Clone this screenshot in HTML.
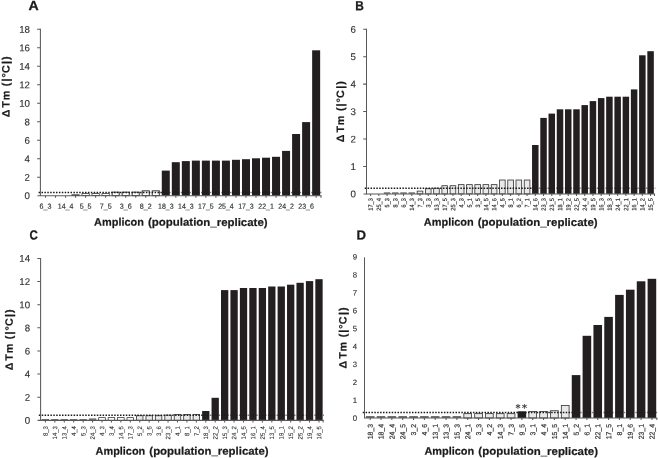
<!DOCTYPE html>
<html lang="en"><head><meta charset="utf-8"><title>Figure</title>
<style>
html,body{margin:0;padding:0;background:#fff;}
body{width:658px;height:458px;overflow:hidden;}
svg{display:block;font-family:"Liberation Sans",sans-serif;}
</style></head><body>
<svg width="658" height="458" viewBox="0 0 658 458">
<rect width="658" height="458" fill="#fff"/>
<g>
<rect x="71.92" y="194.75" width="7.3" height="0.9" fill="#fff" stroke="#222" stroke-width="0.7"/>
<rect x="81.95" y="193.65" width="7.3" height="2" fill="#fff" stroke="#222" stroke-width="0.7"/>
<rect x="91.97" y="193.65" width="7.3" height="2" fill="#fff" stroke="#222" stroke-width="0.7"/>
<rect x="101.99" y="193.65" width="7.3" height="2" fill="#fff" stroke="#222" stroke-width="0.7"/>
<rect x="112.12" y="192.15" width="7.1" height="3.5" fill="#fff" stroke="#222" stroke-width="0.9"/>
<rect x="122.14" y="192.15" width="7.1" height="3.5" fill="#fff" stroke="#222" stroke-width="0.9"/>
<rect x="132.17" y="192.15" width="7.1" height="3.5" fill="#fff" stroke="#222" stroke-width="0.9"/>
<rect x="142.19" y="190.85" width="7.1" height="4.8" fill="#fff" stroke="#222" stroke-width="0.9"/>
<rect x="152.21" y="190.85" width="7.1" height="4.8" fill="#fff" stroke="#222" stroke-width="0.9"/>
<rect x="161.79" y="170.6" width="8" height="25.05" fill="#231f20"/>
<rect x="171.81" y="162.2" width="8" height="33.45" fill="#231f20"/>
<rect x="181.84" y="161.1" width="8" height="34.55" fill="#231f20"/>
<rect x="191.86" y="160.6" width="8" height="35.05" fill="#231f20"/>
<rect x="201.88" y="160.6" width="8" height="35.05" fill="#231f20"/>
<rect x="211.91" y="160.6" width="8" height="35.05" fill="#231f20"/>
<rect x="221.93" y="160.6" width="8" height="35.05" fill="#231f20"/>
<rect x="231.96" y="159.8" width="8" height="35.85" fill="#231f20"/>
<rect x="241.98" y="159.2" width="8" height="36.45" fill="#231f20"/>
<rect x="252" y="158.3" width="8" height="37.35" fill="#231f20"/>
<rect x="262.03" y="157.7" width="8" height="37.95" fill="#231f20"/>
<rect x="272.05" y="156.8" width="8" height="38.85" fill="#231f20"/>
<rect x="282.08" y="150.9" width="8" height="44.75" fill="#231f20"/>
<rect x="292.1" y="134" width="8" height="61.65" fill="#231f20"/>
<rect x="302.12" y="122.1" width="8" height="73.55" fill="#231f20"/>
<rect x="312.15" y="50.3" width="8" height="145.35" fill="#231f20"/>
<line x1="38.6" y1="192.5" x2="163.2" y2="192.5" stroke="#1a1a1a" stroke-width="1.5" stroke-dasharray="1.5 1.4"/>
<line x1="163.3" y1="192.5" x2="321.9" y2="192.5" stroke="#1a1a1a" stroke-opacity="0.55" stroke-width="1.5" stroke-dasharray="1.5 1.4"/>
<line x1="40.4" y1="28.85" x2="40.4" y2="196.05" stroke="#585858" stroke-width="1.05"/>
<line x1="37.4" y1="195.65" x2="321.5" y2="195.65" stroke="#585858" stroke-width="1.05"/>
<path d="M37.1 177.16h3.3M37.1 158.67h3.3M37.1 140.18h3.3M37.1 121.69h3.3M37.1 103.21h3.3M37.1 84.72h3.3M37.1 66.23h3.3M37.1 47.74h3.3M37.1 29.25h3.3" stroke="#585858" stroke-width="1.05" fill="none"/>
<g font-size="9.7" fill="#2e2e2e" stroke="#2e2e2e" stroke-width="0.12" text-anchor="end">
<text transform="translate(30 199.12) rotate(0.04)">0</text>
<text transform="translate(30 180.63) rotate(0.04)">2</text>
<text transform="translate(30 162.14) rotate(0.04)">4</text>
<text transform="translate(30 143.66) rotate(0.04)">6</text>
<text transform="translate(30 125.17) rotate(0.04)">8</text>
<text transform="translate(30 106.68) rotate(0.04)">10</text>
<text transform="translate(30 88.19) rotate(0.04)">12</text>
<text transform="translate(30 69.7) rotate(0.04)">14</text>
<text transform="translate(30 51.21) rotate(0.04)">16</text>
<text transform="translate(30 32.72) rotate(0.04)">18</text>
</g>
<path d="M45.5 195.65v2.1M55.52 195.65v2.1M65.55 195.65v2.1M75.57 195.65v2.1M85.6 195.65v2.1M95.62 195.65v2.1M105.64 195.65v2.1M115.67 195.65v2.1M125.69 195.65v2.1M135.72 195.65v2.1M145.74 195.65v2.1M155.76 195.65v2.1M165.79 195.65v2.1M175.81 195.65v2.1M185.84 195.65v2.1M195.86 195.65v2.1M205.88 195.65v2.1M215.91 195.65v2.1M225.93 195.65v2.1M235.96 195.65v2.1M245.98 195.65v2.1M256 195.65v2.1M266.03 195.65v2.1M276.05 195.65v2.1M286.08 195.65v2.1M296.1 195.65v2.1M306.12 195.65v2.1M316.15 195.65v2.1M321 195.65v2.1" stroke="#585858" stroke-width="1.05" fill="none"/>
<g font-size="7.4" fill="#2e2e2e" stroke="#2e2e2e" stroke-width="0.15" text-anchor="middle">
<text transform="translate(45.5 208.7) rotate(0.04)" textLength="11.9" lengthAdjust="spacingAndGlyphs">6_3</text>
<text transform="translate(65.55 208.7) rotate(0.04)" textLength="15.6" lengthAdjust="spacingAndGlyphs">14_4</text>
<text transform="translate(85.6 208.7) rotate(0.04)" textLength="11.9" lengthAdjust="spacingAndGlyphs">5_5</text>
<text transform="translate(105.64 208.7) rotate(0.04)" textLength="11.9" lengthAdjust="spacingAndGlyphs">7_5</text>
<text transform="translate(125.69 208.7) rotate(0.04)" textLength="11.9" lengthAdjust="spacingAndGlyphs">3_6</text>
<text transform="translate(145.74 208.7) rotate(0.04)" textLength="11.9" lengthAdjust="spacingAndGlyphs">8_2</text>
<text transform="translate(165.79 208.7) rotate(0.04)" textLength="15.6" lengthAdjust="spacingAndGlyphs">18_3</text>
<text transform="translate(185.84 208.7) rotate(0.04)" textLength="15.6" lengthAdjust="spacingAndGlyphs">14_3</text>
<text transform="translate(205.88 208.7) rotate(0.04)" textLength="15.6" lengthAdjust="spacingAndGlyphs">17_5</text>
<text transform="translate(225.93 208.7) rotate(0.04)" textLength="15.6" lengthAdjust="spacingAndGlyphs">25_4</text>
<text transform="translate(245.98 208.7) rotate(0.04)" textLength="15.6" lengthAdjust="spacingAndGlyphs">17_3</text>
<text transform="translate(266.03 208.7) rotate(0.04)" textLength="15.6" lengthAdjust="spacingAndGlyphs">22_1</text>
<text transform="translate(286.08 208.7) rotate(0.04)" textLength="15.6" lengthAdjust="spacingAndGlyphs">24_2</text>
<text transform="translate(306.12 208.7) rotate(0.04)" textLength="15.6" lengthAdjust="spacingAndGlyphs">23_6</text>
</g>
<text transform="translate(28.4 10.1) rotate(0.04)" font-size="13.2" font-weight="bold" fill="#1a1a1a" stroke="#1a1a1a" stroke-width="0.25" textLength="10.2" lengthAdjust="spacingAndGlyphs">A</text>
<text transform="translate(9.5 116.8) rotate(-89.96)" font-size="10.7" font-weight="bold" fill="#1a1a1a" stroke="#1a1a1a" stroke-width="0.2" x="-0.5 7 9.18 16.44 26 30.6 35.2 39.26 43.74 52.8 56.8">Δ Tm (|°C|)</text>
<text transform="translate(94.1 225.8) rotate(0.04)" font-size="11" font-weight="bold" fill="#1a1a1a" stroke="#1a1a1a" stroke-width="0.2" lengthAdjust="spacingAndGlyphs"><tspan x="0" textLength="49.8" lengthAdjust="spacingAndGlyphs">Amplicon</tspan> <tspan x="53.9" textLength="119.6" lengthAdjust="spacingAndGlyphs">(population_replicate)</tspan></text>
</g>
<g>
<rect x="383.82" y="192.3" width="6.5" height="1.6" fill="#707070"/>
<rect x="392.06" y="192.3" width="6.5" height="1.6" fill="#707070"/>
<rect x="400.29" y="192.3" width="6.5" height="1.6" fill="#707070"/>
<rect x="408.53" y="192.3" width="6.5" height="1.6" fill="#707070"/>
<rect x="417.18" y="191.12" width="5.65" height="2.78" fill="#e9e9e9" stroke="#3c3c3c" stroke-width="0.85"/>
<rect x="425.42" y="188.72" width="5.65" height="5.18" fill="#e9e9e9" stroke="#3c3c3c" stroke-width="0.85"/>
<rect x="433.65" y="188.22" width="5.65" height="5.68" fill="#e9e9e9" stroke="#3c3c3c" stroke-width="0.85"/>
<rect x="441.89" y="185.72" width="5.65" height="8.18" fill="#e9e9e9" stroke="#3c3c3c" stroke-width="0.85"/>
<rect x="450.12" y="185.72" width="5.65" height="8.18" fill="#e9e9e9" stroke="#3c3c3c" stroke-width="0.85"/>
<rect x="458.36" y="184.62" width="5.65" height="9.28" fill="#e9e9e9" stroke="#3c3c3c" stroke-width="0.85"/>
<rect x="466.59" y="184.62" width="5.65" height="9.28" fill="#e9e9e9" stroke="#3c3c3c" stroke-width="0.85"/>
<rect x="474.83" y="184.62" width="5.65" height="9.28" fill="#e9e9e9" stroke="#3c3c3c" stroke-width="0.85"/>
<rect x="483.06" y="184.62" width="5.65" height="9.28" fill="#e9e9e9" stroke="#3c3c3c" stroke-width="0.85"/>
<rect x="491.3" y="184.62" width="5.65" height="9.28" fill="#e9e9e9" stroke="#3c3c3c" stroke-width="0.85"/>
<rect x="499.53" y="180.02" width="5.65" height="13.88" fill="#e9e9e9" stroke="#3c3c3c" stroke-width="0.85"/>
<rect x="507.77" y="180.02" width="5.65" height="13.88" fill="#e9e9e9" stroke="#3c3c3c" stroke-width="0.85"/>
<rect x="516" y="180.02" width="5.65" height="13.88" fill="#e9e9e9" stroke="#3c3c3c" stroke-width="0.85"/>
<rect x="524.24" y="180.02" width="5.65" height="13.88" fill="#e9e9e9" stroke="#3c3c3c" stroke-width="0.85"/>
<rect x="532.05" y="145" width="6.5" height="48.9" fill="#231f20"/>
<rect x="540.29" y="117.9" width="6.5" height="76" fill="#231f20"/>
<rect x="548.52" y="113.6" width="6.5" height="80.3" fill="#231f20"/>
<rect x="556.75" y="109.3" width="6.5" height="84.6" fill="#231f20"/>
<rect x="564.99" y="109.3" width="6.5" height="84.6" fill="#231f20"/>
<rect x="573.23" y="109.3" width="6.5" height="84.6" fill="#231f20"/>
<rect x="581.46" y="105.1" width="6.5" height="88.8" fill="#231f20"/>
<rect x="589.69" y="101.1" width="6.5" height="92.8" fill="#231f20"/>
<rect x="597.93" y="98.1" width="6.5" height="95.8" fill="#231f20"/>
<rect x="606.16" y="96.7" width="6.5" height="97.2" fill="#231f20"/>
<rect x="614.4" y="96.7" width="6.5" height="97.2" fill="#231f20"/>
<rect x="622.63" y="96.7" width="6.5" height="97.2" fill="#231f20"/>
<rect x="630.87" y="89.4" width="6.5" height="104.5" fill="#231f20"/>
<rect x="639.11" y="55.3" width="6.5" height="138.6" fill="#231f20"/>
<rect x="647.34" y="51.2" width="6.5" height="142.7" fill="#231f20"/>
<line x1="364.7" y1="188.2" x2="532.8" y2="188.2" stroke="#1a1a1a" stroke-width="1.5" stroke-dasharray="1.5 1.4"/>
<line x1="532.9" y1="188.2" x2="655.4" y2="188.2" stroke="#1a1a1a" stroke-opacity="0.55" stroke-width="1.5" stroke-dasharray="1.5 1.4"/>
<line x1="366.5" y1="28.8" x2="366.5" y2="194.3" stroke="#585858" stroke-width="1.05"/>
<line x1="363.5" y1="193.9" x2="655" y2="193.9" stroke="#585858" stroke-width="1.05"/>
<path d="M363.2 166.45h3.3M363.2 139h3.3M363.2 111.55h3.3M363.2 84.1h3.3M363.2 56.65h3.3M363.2 29.2h3.3" stroke="#585858" stroke-width="1.05" fill="none"/>
<g font-size="9.7" fill="#2e2e2e" stroke="#2e2e2e" stroke-width="0.12" text-anchor="end">
<text transform="translate(355.8 197.37) rotate(0.04)">0</text>
<text transform="translate(355.8 169.92) rotate(0.04)">1</text>
<text transform="translate(355.8 142.47) rotate(0.04)">2</text>
<text transform="translate(355.8 115.02) rotate(0.04)">3</text>
<text transform="translate(355.8 87.57) rotate(0.04)">4</text>
<text transform="translate(355.8 60.12) rotate(0.04)">5</text>
<text transform="translate(355.8 32.67) rotate(0.04)">6</text>
</g>
<path d="M370.6 193.9v2.1M378.84 193.9v2.1M387.07 193.9v2.1M395.31 193.9v2.1M403.54 193.9v2.1M411.78 193.9v2.1M420.01 193.9v2.1M428.25 193.9v2.1M436.48 193.9v2.1M444.72 193.9v2.1M452.95 193.9v2.1M461.19 193.9v2.1M469.42 193.9v2.1M477.66 193.9v2.1M485.89 193.9v2.1M494.12 193.9v2.1M502.36 193.9v2.1M510.6 193.9v2.1M518.83 193.9v2.1M527.07 193.9v2.1M535.3 193.9v2.1M543.54 193.9v2.1M551.77 193.9v2.1M560 193.9v2.1M568.24 193.9v2.1M576.48 193.9v2.1M584.71 193.9v2.1M592.94 193.9v2.1M601.18 193.9v2.1M609.41 193.9v2.1M617.65 193.9v2.1M625.88 193.9v2.1M634.12 193.9v2.1M642.36 193.9v2.1M650.59 193.9v2.1M654.5 193.9v2.1" stroke="#585858" stroke-width="1.05" fill="none"/>
<g font-size="6.3" fill="#2e2e2e" stroke="#2e2e2e" stroke-width="0.15" text-anchor="end">
<text transform="translate(372.86 198.2) rotate(-89.96)" textLength="12.5" lengthAdjust="spacingAndGlyphs">17_3</text>
<text transform="translate(381.09 198.2) rotate(-89.96)" textLength="12.5" lengthAdjust="spacingAndGlyphs">25_4</text>
<text transform="translate(389.33 198.2) rotate(-89.96)" textLength="9.2" lengthAdjust="spacingAndGlyphs">5_3</text>
<text transform="translate(397.56 198.2) rotate(-89.96)" textLength="9.2" lengthAdjust="spacingAndGlyphs">8_3</text>
<text transform="translate(405.8 198.2) rotate(-89.96)" textLength="9.2" lengthAdjust="spacingAndGlyphs">6_3</text>
<text transform="translate(414.03 198.2) rotate(-89.96)" textLength="12.5" lengthAdjust="spacingAndGlyphs">14_3</text>
<text transform="translate(422.27 198.2) rotate(-89.96)" textLength="9.2" lengthAdjust="spacingAndGlyphs">7_3</text>
<text transform="translate(430.5 198.2) rotate(-89.96)" textLength="9.2" lengthAdjust="spacingAndGlyphs">3_3</text>
<text transform="translate(438.74 198.2) rotate(-89.96)" textLength="12.5" lengthAdjust="spacingAndGlyphs">13_3</text>
<text transform="translate(446.97 198.2) rotate(-89.96)" textLength="12.5" lengthAdjust="spacingAndGlyphs">17_5</text>
<text transform="translate(455.21 198.2) rotate(-89.96)" textLength="12.5" lengthAdjust="spacingAndGlyphs">25_3</text>
<text transform="translate(463.44 198.2) rotate(-89.96)" textLength="9.2" lengthAdjust="spacingAndGlyphs">4_3</text>
<text transform="translate(471.68 198.2) rotate(-89.96)" textLength="9.2" lengthAdjust="spacingAndGlyphs">5_1</text>
<text transform="translate(479.91 198.2) rotate(-89.96)" textLength="9.2" lengthAdjust="spacingAndGlyphs">3_5</text>
<text transform="translate(488.15 198.2) rotate(-89.96)" textLength="12.5" lengthAdjust="spacingAndGlyphs">14_5</text>
<text transform="translate(496.38 198.2) rotate(-89.96)" textLength="12.5" lengthAdjust="spacingAndGlyphs">14_6</text>
<text transform="translate(504.62 198.2) rotate(-89.96)" textLength="9.2" lengthAdjust="spacingAndGlyphs">4_5</text>
<text transform="translate(512.85 198.2) rotate(-89.96)" textLength="9.2" lengthAdjust="spacingAndGlyphs">8_1</text>
<text transform="translate(521.09 198.2) rotate(-89.96)" textLength="9.2" lengthAdjust="spacingAndGlyphs">6_2</text>
<text transform="translate(529.32 198.2) rotate(-89.96)" textLength="9.2" lengthAdjust="spacingAndGlyphs">7_1</text>
<text transform="translate(537.56 198.2) rotate(-89.96)" textLength="12.5" lengthAdjust="spacingAndGlyphs">14_6</text>
<text transform="translate(545.79 198.2) rotate(-89.96)" textLength="12.5" lengthAdjust="spacingAndGlyphs">23_3</text>
<text transform="translate(554.03 198.2) rotate(-89.96)" textLength="12.5" lengthAdjust="spacingAndGlyphs">23_5</text>
<text transform="translate(562.26 198.2) rotate(-89.96)" textLength="12.5" lengthAdjust="spacingAndGlyphs">18_1</text>
<text transform="translate(570.5 198.2) rotate(-89.96)" textLength="12.5" lengthAdjust="spacingAndGlyphs">19_2</text>
<text transform="translate(578.73 198.2) rotate(-89.96)" textLength="12.5" lengthAdjust="spacingAndGlyphs">22_5</text>
<text transform="translate(586.97 198.2) rotate(-89.96)" textLength="12.5" lengthAdjust="spacingAndGlyphs">24_4</text>
<text transform="translate(595.2 198.2) rotate(-89.96)" textLength="12.5" lengthAdjust="spacingAndGlyphs">19_5</text>
<text transform="translate(603.44 198.2) rotate(-89.96)" textLength="12.5" lengthAdjust="spacingAndGlyphs">16_3</text>
<text transform="translate(611.67 198.2) rotate(-89.96)" textLength="12.5" lengthAdjust="spacingAndGlyphs">18_3</text>
<text transform="translate(619.91 198.2) rotate(-89.96)" textLength="12.5" lengthAdjust="spacingAndGlyphs">24_1</text>
<text transform="translate(628.14 198.2) rotate(-89.96)" textLength="12.5" lengthAdjust="spacingAndGlyphs">22_1</text>
<text transform="translate(636.38 198.2) rotate(-89.96)" textLength="12.5" lengthAdjust="spacingAndGlyphs">16_1</text>
<text transform="translate(644.61 198.2) rotate(-89.96)" textLength="12.5" lengthAdjust="spacingAndGlyphs">14_2</text>
<text transform="translate(652.85 198.2) rotate(-89.96)" textLength="12.5" lengthAdjust="spacingAndGlyphs">15_5</text>
</g>
<text transform="translate(355.3 10.3) rotate(0.04)" font-size="13.2" font-weight="bold" fill="#1a1a1a" stroke="#1a1a1a" stroke-width="0.25" textLength="8.6" lengthAdjust="spacingAndGlyphs">B</text>
<text transform="translate(343.9 141.65) rotate(-89.96)" font-size="10.7" font-weight="bold" fill="#1a1a1a" stroke="#1a1a1a" stroke-width="0.2" x="-0.5 7 9.18 16.44 26 30.6 35.2 39.26 43.74 52.8 56.8">Δ Tm (|°C|)</text>
<text transform="translate(423.8 225.8) rotate(0.04)" font-size="11" font-weight="bold" fill="#1a1a1a" stroke="#1a1a1a" stroke-width="0.2" lengthAdjust="spacingAndGlyphs"><tspan x="0" textLength="49.89" lengthAdjust="spacingAndGlyphs">Amplicon</tspan> <tspan x="53.99" textLength="119.81" lengthAdjust="spacingAndGlyphs">(population_replicate)</tspan></text>
</g>
<g>
<rect x="41.75" y="419" width="7.3" height="1.35" fill="#707070"/>
<rect x="51.18" y="419" width="7.3" height="1.35" fill="#707070"/>
<rect x="60.62" y="419" width="7.3" height="1.35" fill="#707070"/>
<rect x="70.05" y="419" width="7.3" height="1.35" fill="#707070"/>
<rect x="79.49" y="419" width="7.3" height="1.35" fill="#707070"/>
<rect x="88.92" y="418.4" width="7.3" height="1.95" fill="#707070"/>
<rect x="98.7" y="417.65" width="6.6" height="2.7" fill="#fff" stroke="#222" stroke-width="0.7"/>
<rect x="108.14" y="417.65" width="6.6" height="2.7" fill="#fff" stroke="#222" stroke-width="0.7"/>
<rect x="117.57" y="417.65" width="6.6" height="2.7" fill="#fff" stroke="#222" stroke-width="0.7"/>
<rect x="127.01" y="417.65" width="6.6" height="2.7" fill="#fff" stroke="#222" stroke-width="0.7"/>
<rect x="136.51" y="415.72" width="6.45" height="4.63" fill="#e9e9e9" stroke="#3c3c3c" stroke-width="0.85"/>
<rect x="145.94" y="415.72" width="6.45" height="4.63" fill="#e9e9e9" stroke="#3c3c3c" stroke-width="0.85"/>
<rect x="155.38" y="415.72" width="6.45" height="4.63" fill="#e9e9e9" stroke="#3c3c3c" stroke-width="0.85"/>
<rect x="164.81" y="415.12" width="6.45" height="5.23" fill="#e9e9e9" stroke="#3c3c3c" stroke-width="0.85"/>
<rect x="174.25" y="414.42" width="6.45" height="5.93" fill="#e9e9e9" stroke="#3c3c3c" stroke-width="0.85"/>
<rect x="183.68" y="414.42" width="6.45" height="5.93" fill="#e9e9e9" stroke="#3c3c3c" stroke-width="0.85"/>
<rect x="193.11" y="414.42" width="6.45" height="5.93" fill="#e9e9e9" stroke="#3c3c3c" stroke-width="0.85"/>
<rect x="202.13" y="411" width="7.3" height="9.35" fill="#231f20"/>
<rect x="211.56" y="397.8" width="7.3" height="22.55" fill="#231f20"/>
<rect x="221" y="290.1" width="7.3" height="130.25" fill="#231f20"/>
<rect x="230.43" y="290.1" width="7.3" height="130.25" fill="#231f20"/>
<rect x="239.86" y="288" width="7.3" height="132.35" fill="#231f20"/>
<rect x="249.3" y="288" width="7.3" height="132.35" fill="#231f20"/>
<rect x="258.73" y="288" width="7.3" height="132.35" fill="#231f20"/>
<rect x="268.17" y="286.5" width="7.3" height="133.85" fill="#231f20"/>
<rect x="277.6" y="286.5" width="7.3" height="133.85" fill="#231f20"/>
<rect x="287.03" y="284.7" width="7.3" height="135.65" fill="#231f20"/>
<rect x="296.47" y="282.8" width="7.3" height="137.55" fill="#231f20"/>
<rect x="305.9" y="281.1" width="7.3" height="139.25" fill="#231f20"/>
<rect x="315.34" y="279.2" width="7.3" height="141.15" fill="#231f20"/>
<line x1="38.8" y1="415.3" x2="204" y2="415.3" stroke="#1a1a1a" stroke-width="1.5" stroke-dasharray="1.5 1.4"/>
<line x1="204.1" y1="415.3" x2="324" y2="415.3" stroke="#1a1a1a" stroke-opacity="0.55" stroke-width="1.5" stroke-dasharray="1.5 1.4"/>
<line x1="40.6" y1="258" x2="40.6" y2="420.75" stroke="#585858" stroke-width="1.05"/>
<line x1="37.6" y1="420.35" x2="323.6" y2="420.35" stroke="#585858" stroke-width="1.05"/>
<path d="M37.3 397.21h3.3M37.3 374.08h3.3M37.3 350.94h3.3M37.3 327.81h3.3M37.3 304.67h3.3M37.3 281.54h3.3M37.3 258.4h3.3" stroke="#585858" stroke-width="1.05" fill="none"/>
<g font-size="9.7" fill="#2e2e2e" stroke="#2e2e2e" stroke-width="0.12" text-anchor="end">
<text transform="translate(30.1 423.82) rotate(0.04)">0</text>
<text transform="translate(30.1 400.69) rotate(0.04)">2</text>
<text transform="translate(30.1 377.55) rotate(0.04)">4</text>
<text transform="translate(30.1 354.42) rotate(0.04)">6</text>
<text transform="translate(30.1 331.28) rotate(0.04)">8</text>
<text transform="translate(30.1 308.14) rotate(0.04)">10</text>
<text transform="translate(30.1 285.01) rotate(0.04)">12</text>
<text transform="translate(30.1 261.87) rotate(0.04)">14</text>
</g>
<path d="M45.4 420.35v2.1M54.83 420.35v2.1M64.27 420.35v2.1M73.7 420.35v2.1M83.14 420.35v2.1M92.57 420.35v2.1M102 420.35v2.1M111.44 420.35v2.1M120.87 420.35v2.1M130.31 420.35v2.1M139.74 420.35v2.1M149.17 420.35v2.1M158.61 420.35v2.1M168.04 420.35v2.1M177.48 420.35v2.1M186.91 420.35v2.1M196.34 420.35v2.1M205.78 420.35v2.1M215.21 420.35v2.1M224.65 420.35v2.1M234.08 420.35v2.1M243.51 420.35v2.1M252.95 420.35v2.1M262.38 420.35v2.1M271.82 420.35v2.1M281.25 420.35v2.1M290.68 420.35v2.1M300.12 420.35v2.1M309.55 420.35v2.1M318.99 420.35v2.1M323.1 420.35v2.1" stroke="#585858" stroke-width="1.05" fill="none"/>
<g font-size="6.4" fill="#2e2e2e" stroke="#2e2e2e" stroke-width="0.1" text-anchor="end">
<text transform="translate(47.69 426.1) rotate(-89.96)" textLength="10" lengthAdjust="spacingAndGlyphs">8_3</text>
<text transform="translate(57.13 426.1) rotate(-89.96)" textLength="13.3" lengthAdjust="spacingAndGlyphs">14_3</text>
<text transform="translate(66.56 426.1) rotate(-89.96)" textLength="13.3" lengthAdjust="spacingAndGlyphs">13_4</text>
<text transform="translate(75.99 426.1) rotate(-89.96)" textLength="10" lengthAdjust="spacingAndGlyphs">4_4</text>
<text transform="translate(85.43 426.1) rotate(-89.96)" textLength="10" lengthAdjust="spacingAndGlyphs">5_3</text>
<text transform="translate(94.86 426.1) rotate(-89.96)" textLength="13.3" lengthAdjust="spacingAndGlyphs">24_3</text>
<text transform="translate(104.3 426.1) rotate(-89.96)" textLength="10" lengthAdjust="spacingAndGlyphs">4_3</text>
<text transform="translate(113.73 426.1) rotate(-89.96)" textLength="10" lengthAdjust="spacingAndGlyphs">3_4</text>
<text transform="translate(123.16 426.1) rotate(-89.96)" textLength="13.3" lengthAdjust="spacingAndGlyphs">14_5</text>
<text transform="translate(132.6 426.1) rotate(-89.96)" textLength="13.3" lengthAdjust="spacingAndGlyphs">17_3</text>
<text transform="translate(142.03 426.1) rotate(-89.96)" textLength="10" lengthAdjust="spacingAndGlyphs">5_2</text>
<text transform="translate(151.47 426.1) rotate(-89.96)" textLength="10" lengthAdjust="spacingAndGlyphs">3_5</text>
<text transform="translate(160.9 426.1) rotate(-89.96)" textLength="10" lengthAdjust="spacingAndGlyphs">3_6</text>
<text transform="translate(170.33 426.1) rotate(-89.96)" textLength="13.3" lengthAdjust="spacingAndGlyphs">23_3</text>
<text transform="translate(179.77 426.1) rotate(-89.96)" textLength="10" lengthAdjust="spacingAndGlyphs">4_1</text>
<text transform="translate(189.2 426.1) rotate(-89.96)" textLength="10" lengthAdjust="spacingAndGlyphs">8_1</text>
<text transform="translate(198.64 426.1) rotate(-89.96)" textLength="10" lengthAdjust="spacingAndGlyphs">7_2</text>
<text transform="translate(208.07 426.1) rotate(-89.96)" textLength="13.3" lengthAdjust="spacingAndGlyphs">18_3</text>
<text transform="translate(217.5 426.1) rotate(-89.96)" textLength="13.3" lengthAdjust="spacingAndGlyphs">22_2</text>
<text transform="translate(226.94 426.1) rotate(-89.96)" textLength="13.3" lengthAdjust="spacingAndGlyphs">15_3</text>
<text transform="translate(236.37 426.1) rotate(-89.96)" textLength="13.3" lengthAdjust="spacingAndGlyphs">24_2</text>
<text transform="translate(245.81 426.1) rotate(-89.96)" textLength="13.3" lengthAdjust="spacingAndGlyphs">14_5</text>
<text transform="translate(255.24 426.1) rotate(-89.96)" textLength="13.3" lengthAdjust="spacingAndGlyphs">16_1</text>
<text transform="translate(264.67 426.1) rotate(-89.96)" textLength="13.3" lengthAdjust="spacingAndGlyphs">25_4</text>
<text transform="translate(274.11 426.1) rotate(-89.96)" textLength="13.3" lengthAdjust="spacingAndGlyphs">13_5</text>
<text transform="translate(283.54 426.1) rotate(-89.96)" textLength="13.3" lengthAdjust="spacingAndGlyphs">19_1</text>
<text transform="translate(292.98 426.1) rotate(-89.96)" textLength="13.3" lengthAdjust="spacingAndGlyphs">15_2</text>
<text transform="translate(302.41 426.1) rotate(-89.96)" textLength="13.3" lengthAdjust="spacingAndGlyphs">25_2</text>
<text transform="translate(311.84 426.1) rotate(-89.96)" textLength="13.3" lengthAdjust="spacingAndGlyphs">19_4</text>
<text transform="translate(321.28 426.1) rotate(-89.96)" textLength="13.3" lengthAdjust="spacingAndGlyphs">16_5</text>
</g>
<text transform="translate(29.6 239.6) rotate(0.04)" font-size="13.2" font-weight="bold" fill="#1a1a1a" stroke="#1a1a1a" stroke-width="0.25" textLength="8.3" lengthAdjust="spacingAndGlyphs">C</text>
<text transform="translate(12.7 369.8) rotate(-89.96)" font-size="10.7" font-weight="bold" fill="#1a1a1a" stroke="#1a1a1a" stroke-width="0.2" x="-0.5 7 9.18 16.44 26 30.6 35.2 39.26 43.74 52.8 56.8">Δ Tm (|°C|)</text>
<text transform="translate(95.6 454.7) rotate(0.04)" font-size="11" font-weight="bold" fill="#1a1a1a" stroke="#1a1a1a" stroke-width="0.2" lengthAdjust="spacingAndGlyphs"><tspan x="0" textLength="49.66" lengthAdjust="spacingAndGlyphs">Amplicon</tspan> <tspan x="53.74" textLength="119.25" lengthAdjust="spacingAndGlyphs">(population_replicate)</tspan></text>
</g>
<g>
<rect x="365.9" y="416" width="8.6" height="2" fill="#707070"/>
<rect x="376.73" y="416" width="8.6" height="2" fill="#707070"/>
<rect x="387.57" y="416" width="8.6" height="2" fill="#707070"/>
<rect x="398.4" y="416" width="8.6" height="2" fill="#707070"/>
<rect x="409.24" y="416" width="8.6" height="2" fill="#707070"/>
<rect x="420.07" y="416" width="8.6" height="2" fill="#707070"/>
<rect x="430.91" y="416" width="8.6" height="2" fill="#707070"/>
<rect x="441.74" y="416" width="8.6" height="2" fill="#707070"/>
<rect x="452.58" y="416" width="8.6" height="2" fill="#707070"/>
<rect x="463.84" y="413.62" width="7.75" height="4.38" fill="#e9e9e9" stroke="#3c3c3c" stroke-width="0.85"/>
<rect x="474.67" y="413.62" width="7.75" height="4.38" fill="#e9e9e9" stroke="#3c3c3c" stroke-width="0.85"/>
<rect x="485.5" y="413.62" width="7.75" height="4.38" fill="#e9e9e9" stroke="#3c3c3c" stroke-width="0.85"/>
<rect x="496.34" y="413.62" width="7.75" height="4.38" fill="#e9e9e9" stroke="#3c3c3c" stroke-width="0.85"/>
<rect x="507.18" y="413.62" width="7.75" height="4.38" fill="#e9e9e9" stroke="#3c3c3c" stroke-width="0.85"/>
<rect x="517.59" y="411.3" width="8.6" height="6.7" fill="#231f20"/>
<rect x="528.85" y="411.52" width="7.75" height="6.48" fill="#e9e9e9" stroke="#3c3c3c" stroke-width="0.85"/>
<rect x="539.68" y="411.52" width="7.75" height="6.48" fill="#e9e9e9" stroke="#3c3c3c" stroke-width="0.85"/>
<rect x="550.51" y="410.72" width="7.75" height="7.28" fill="#e9e9e9" stroke="#3c3c3c" stroke-width="0.85"/>
<rect x="561.35" y="405.52" width="7.75" height="12.48" fill="#e9e9e9" stroke="#3c3c3c" stroke-width="0.85"/>
<rect x="571.77" y="375.1" width="8.6" height="42.9" fill="#231f20"/>
<rect x="582.6" y="335.8" width="8.6" height="82.2" fill="#231f20"/>
<rect x="593.44" y="325" width="8.6" height="93" fill="#231f20"/>
<rect x="604.27" y="316.9" width="8.6" height="101.1" fill="#231f20"/>
<rect x="615.11" y="294.9" width="8.6" height="123.1" fill="#231f20"/>
<rect x="625.94" y="289.7" width="8.6" height="128.3" fill="#231f20"/>
<rect x="636.78" y="281.3" width="8.6" height="136.7" fill="#231f20"/>
<rect x="647.61" y="278.8" width="8.6" height="139.2" fill="#231f20"/>
<line x1="362.7" y1="412.6" x2="574.3" y2="412.6" stroke="#1a1a1a" stroke-width="1.5" stroke-dasharray="1.5 1.4"/>
<line x1="574.4" y1="412.6" x2="657.7" y2="412.6" stroke="#1a1a1a" stroke-opacity="0.55" stroke-width="1.5" stroke-dasharray="1.5 1.4"/>
<line x1="364.5" y1="257.3" x2="364.5" y2="418.4" stroke="#585858" stroke-width="1.05"/>
<line x1="364.5" y1="418" x2="657.3" y2="418" stroke="#585858" stroke-width="1.05"/>
<g font-size="7.8" fill="#2e2e2e" stroke="#2e2e2e" stroke-width="0.12" text-anchor="end">
<text transform="translate(357.2 420.79) rotate(0.04)">0</text>
<text transform="translate(357.2 402.88) rotate(0.04)">1</text>
<text transform="translate(357.2 384.97) rotate(0.04)">2</text>
<text transform="translate(357.2 367.06) rotate(0.04)">3</text>
<text transform="translate(357.2 349.15) rotate(0.04)">4</text>
<text transform="translate(357.2 331.24) rotate(0.04)">5</text>
<text transform="translate(357.2 313.33) rotate(0.04)">6</text>
<text transform="translate(357.2 295.41) rotate(0.04)">7</text>
<text transform="translate(357.2 277.5) rotate(0.04)">8</text>
<text transform="translate(357.2 259.59) rotate(0.04)">9</text>
</g>
<path d="M370.2 418v2.1M381.03 418v2.1M391.87 418v2.1M402.7 418v2.1M413.54 418v2.1M424.38 418v2.1M435.21 418v2.1M446.04 418v2.1M456.88 418v2.1M467.72 418v2.1M478.55 418v2.1M489.38 418v2.1M500.22 418v2.1M511.06 418v2.1M521.89 418v2.1M532.73 418v2.1M543.56 418v2.1M554.39 418v2.1M565.23 418v2.1M576.07 418v2.1M586.9 418v2.1M597.74 418v2.1M608.57 418v2.1M619.4 418v2.1M630.24 418v2.1M641.08 418v2.1M651.91 418v2.1M656.8 418v2.1" stroke="#585858" stroke-width="1.05" fill="none"/>
<g font-size="7.2" fill="#2e2e2e" stroke="#2e2e2e" stroke-width="0.2" text-anchor="end">
<text transform="translate(372.78 424) rotate(-89.96)" textLength="15.2" lengthAdjust="spacingAndGlyphs">18_3</text>
<text transform="translate(383.61 424) rotate(-89.96)" textLength="15.2" lengthAdjust="spacingAndGlyphs">18_4</text>
<text transform="translate(394.45 424) rotate(-89.96)" textLength="15.2" lengthAdjust="spacingAndGlyphs">24_4</text>
<text transform="translate(405.28 424) rotate(-89.96)" textLength="15.2" lengthAdjust="spacingAndGlyphs">24_5</text>
<text transform="translate(416.12 424) rotate(-89.96)" textLength="11.4" lengthAdjust="spacingAndGlyphs">3_2</text>
<text transform="translate(426.95 424) rotate(-89.96)" textLength="11.4" lengthAdjust="spacingAndGlyphs">4_6</text>
<text transform="translate(437.79 424) rotate(-89.96)" textLength="15.2" lengthAdjust="spacingAndGlyphs">13_1</text>
<text transform="translate(448.62 424) rotate(-89.96)" textLength="15.2" lengthAdjust="spacingAndGlyphs">13_3</text>
<text transform="translate(459.46 424) rotate(-89.96)" textLength="15.2" lengthAdjust="spacingAndGlyphs">15_3</text>
<text transform="translate(470.29 424) rotate(-89.96)" textLength="15.2" lengthAdjust="spacingAndGlyphs">24_1</text>
<text transform="translate(481.13 424) rotate(-89.96)" textLength="11.4" lengthAdjust="spacingAndGlyphs">3_3</text>
<text transform="translate(491.96 424) rotate(-89.96)" textLength="11.4" lengthAdjust="spacingAndGlyphs">4_2</text>
<text transform="translate(502.8 424) rotate(-89.96)" textLength="15.2" lengthAdjust="spacingAndGlyphs">14_3</text>
<text transform="translate(513.63 424) rotate(-89.96)" textLength="11.4" lengthAdjust="spacingAndGlyphs">7_3</text>
<text transform="translate(524.47 424) rotate(-89.96)" textLength="11.4" lengthAdjust="spacingAndGlyphs">9_5</text>
<text transform="translate(535.3 424) rotate(-89.96)" textLength="11.4" lengthAdjust="spacingAndGlyphs">3_1</text>
<text transform="translate(546.14 424) rotate(-89.96)" textLength="11.4" lengthAdjust="spacingAndGlyphs">4_4</text>
<text transform="translate(556.97 424) rotate(-89.96)" textLength="15.2" lengthAdjust="spacingAndGlyphs">15_5</text>
<text transform="translate(567.81 424) rotate(-89.96)" textLength="15.2" lengthAdjust="spacingAndGlyphs">14_1</text>
<text transform="translate(578.64 424) rotate(-89.96)" textLength="11.4" lengthAdjust="spacingAndGlyphs">5_2</text>
<text transform="translate(589.48 424) rotate(-89.96)" textLength="11.4" lengthAdjust="spacingAndGlyphs">6_1</text>
<text transform="translate(600.31 424) rotate(-89.96)" textLength="15.2" lengthAdjust="spacingAndGlyphs">22_1</text>
<text transform="translate(611.15 424) rotate(-89.96)" textLength="15.2" lengthAdjust="spacingAndGlyphs">17_5</text>
<text transform="translate(621.98 424) rotate(-89.96)" textLength="11.4" lengthAdjust="spacingAndGlyphs">8_1</text>
<text transform="translate(632.82 424) rotate(-89.96)" textLength="15.2" lengthAdjust="spacingAndGlyphs">19_6</text>
<text transform="translate(643.65 424) rotate(-89.96)" textLength="15.2" lengthAdjust="spacingAndGlyphs">23_1</text>
<text transform="translate(654.49 424) rotate(-89.96)" textLength="15.2" lengthAdjust="spacingAndGlyphs">22_4</text>
</g>
<text transform="translate(356.6 239.5) rotate(0.04)" font-size="13.2" font-weight="bold" fill="#1a1a1a" stroke="#1a1a1a" stroke-width="0.25">D</text>
<text transform="translate(346.5 367.9) rotate(-89.96)" font-size="10.7" font-weight="bold" fill="#1a1a1a" stroke="#1a1a1a" stroke-width="0.2" x="-0.5 7 9.18 16.44 26 30.6 35.2 39.26 43.74 52.8 56.8">Δ Tm (|°C|)</text>
<text transform="translate(424.4 454.8) rotate(0.04)" font-size="11" font-weight="bold" fill="#1a1a1a" stroke="#1a1a1a" stroke-width="0.2" lengthAdjust="spacingAndGlyphs"><tspan x="0" textLength="49.83" lengthAdjust="spacingAndGlyphs">Amplicon</tspan> <tspan x="53.93" textLength="119.67" lengthAdjust="spacingAndGlyphs">(population_replicate)</tspan></text>
<g font-family="DejaVu Sans, Liberation Sans, sans-serif" font-size="10" fill="#2a2a2a" stroke="#2a2a2a" stroke-width="0.15" text-anchor="middle"><text transform="translate(517.9 411.6) rotate(0.04)">*</text><text transform="translate(524.6 411.6) rotate(0.04)">*</text></g>
</g>
</svg>
</body></html>
